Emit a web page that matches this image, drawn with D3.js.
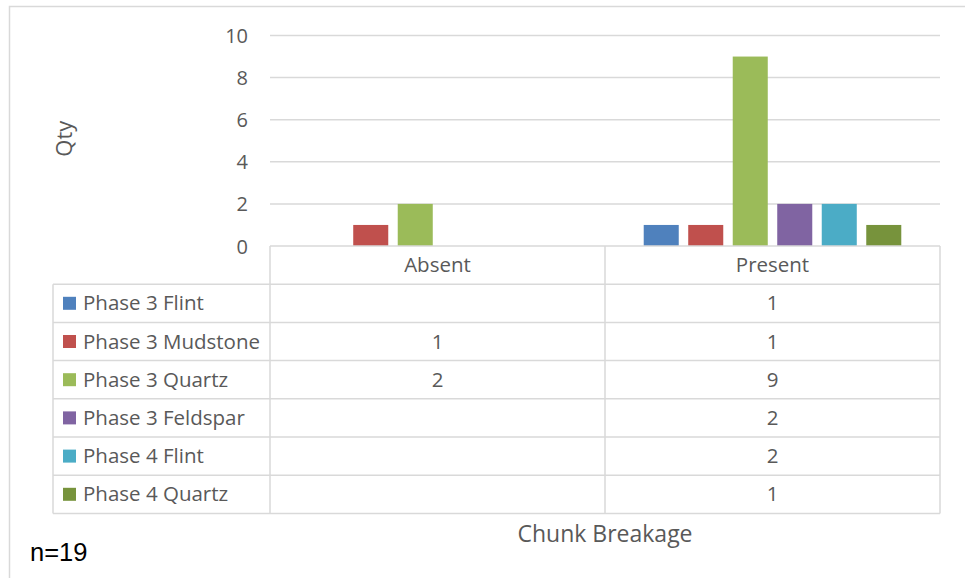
<!DOCTYPE html>
<html><head><meta charset="utf-8">
<script src="https://cdn.jsdelivr.net/npm/d3@7"></script>
<style>
html,body{margin:0;padding:0;background:#fff;}
svg text{font-family:"Open Sans",sans-serif;}
</style></head>
<body><svg id="c" width="965" height="578"></svg>
<script>
const categories = ["Absent", "Present"];
const seriesNames = ["Phase 3 Flint","Phase 3 Mudstone","Phase 3 Quartz","Phase 3 Feldspar","Phase 4 Flint","Phase 4 Quartz"];
const absentValues = [null, 1, 2, null, null, null];
const presentValues = [1, 1, 9, 2, 2, 1];
const seriesColors = ["#4f81bd","#c0504d","#9bbb59","#8064a2","#4bacc6","#77933c"];
const yTicks = [0, 2, 4, 6, 8, 10];
const yTitle = "Qty";
const xTitle = "Chunk Breakage";
const note = "n=19";

const values = categories.map((c,i)=> i===0 ? absentValues : presentValues);

const svg = d3.select("#c");
const grid = "#d9d9d9", txt = "#595959";
const L = 270, R = 940, T = 35.5, B = 246;
const rowH = 38.2, tableLeft = 53;
const fs = "20.5px";

// outer border
svg.append("path").attr("d", `M9.5,578 V6.5 H965`).attr("fill","none").attr("stroke",grid).attr("stroke-width",1.5);

const y = d3.scaleLinear().domain([0,10]).range([B,T]);
const x0 = d3.scaleBand().domain(categories).range([L,R]);
const x1 = d3.scaleBand().domain(seriesNames).range([0, x0.bandwidth()]).paddingInner(0.213).paddingOuter(0.87);

// gridlines
svg.append("g").selectAll("line").data(yTicks.filter(d=>d>0)).join("line")
  .attr("x1",L).attr("x2",R).attr("y1",d=>y(d)).attr("y2",d=>y(d))
  .attr("stroke",grid).attr("stroke-width",1.5);

// y axis labels
const yAxis = d3.axisLeft(y).tickValues(yTicks).tickSize(0).tickPadding(22);
const ya = svg.append("g").attr("transform",`translate(${L},0)`).call(yAxis);
ya.select(".domain").remove();
ya.selectAll("text").attr("fill",txt).style("font-size","20px").style("font-family","Open Sans").attr("dy","0.35em");

// bars
categories.forEach((c,ci)=>{
  svg.append("g").selectAll("rect").data(seriesNames.map((s,i)=>({s,i,v:values[ci][i]})).filter(d=>d.v!=null))
    .join("rect")
    .attr("x",d=>x0(c)+x1(d.s)).attr("width",x1.bandwidth())
    .attr("y",d=>y(d.v)).attr("height",d=>y(0)-y(d.v))
    .attr("fill",d=>seriesColors[d.i]);
});

// data table
const tbl = svg.append("g").attr("stroke",grid).attr("stroke-width",1.5).attr("fill","none");
const nRows = seriesNames.length;
const tableBottom = B + rowH*(nRows+1);
tbl.append("line").attr("x1",L).attr("x2",R).attr("y1",B).attr("y2",B);
d3.range(1,nRows+2).forEach(r=>{
  tbl.append("line").attr("x1",tableLeft).attr("x2",R).attr("y1",B+rowH*r).attr("y2",B+rowH*r);
});
tbl.append("line").attr("x1",tableLeft).attr("x2",tableLeft).attr("y1",B+rowH).attr("y2",tableBottom);
[L, x0("Present"), R].forEach(xv=>{
  tbl.append("line").attr("x1",xv).attr("x2",xv).attr("y1",B).attr("y2",tableBottom);
});
svg.append("g").selectAll("text").data(categories).join("text")
  .attr("x",d=>x0(d)+x0.bandwidth()/2).attr("y",B+rowH/2).attr("dy","0.35em")
  .attr("text-anchor","middle").attr("fill",txt).style("font-size",fs).text(d=>d);
seriesNames.forEach((s,i)=>{
  const cy = B + rowH*(i+1) + rowH/2;
  svg.append("rect").attr("x",63).attr("y",cy-6.5).attr("width",13).attr("height",13).attr("fill",seriesColors[i]);
  svg.append("text").attr("x",83).attr("y",cy).attr("dy","0.35em").attr("fill",txt).style("font-size",fs).text(s);
  categories.forEach((c,ci)=>{
    const v = values[ci][i];
    if(v!=null) svg.append("text").attr("x",x0(c)+x0.bandwidth()/2).attr("y",cy).attr("dy","0.35em")
      .attr("text-anchor","middle").attr("fill",txt).style("font-size",fs).text(v);
  });
});

// titles
svg.append("text").attr("transform",`translate(72,${(T+B)/2 - 2}) rotate(-90)`).attr("text-anchor","middle")
  .attr("fill",txt).style("font-size","22px").text(yTitle);
svg.append("text").attr("x",(L+R)/2).attr("y",534).attr("dy","0.35em").attr("text-anchor","middle")
  .attr("fill",txt).style("font-size","23px").text(xTitle);
svg.append("text").attr("x",30).attr("y",561).attr("fill","#000").style("font-size","25.5px")
  .style("font-family","Liberation Sans").text(note);
</script></body></html>
